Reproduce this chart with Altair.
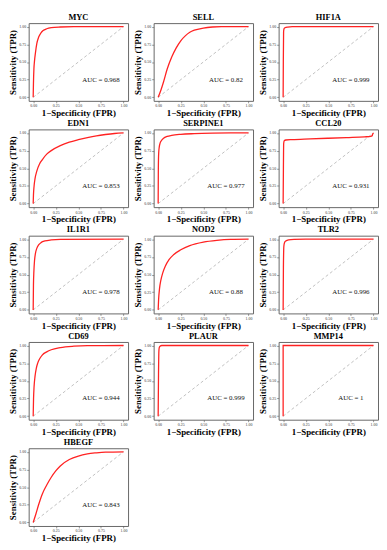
import altair as alt
import pandas as pd

genes = ["MYC", "SELL", "HIF1A", "EDN1", "SERPINE1", "CCL20", "IL1R1", "NOD2",
         "TLR2", "CD69", "PLAUR", "MMP14", "HBEGF"]
auc_labels = ["AUC = 0.968", "AUC = 0.82", "AUC = 0.999", "AUC = 0.853", "AUC = 0.977",
              "AUC = 0.931", "AUC = 0.978", "AUC = 0.88", "AUC = 0.996", "AUC = 0.944",
              "AUC = 0.999", "AUC = 1", "AUC = 0.843"]

fpr_MYC = [0, 0.003, 0.008, 0.015, 0.025, 0.04, 0.06, 0.08, 0.11, 0.15, 0.2, 0.3, 0.45, 1.0]
tpr_MYC = [0, 0.2, 0.4, 0.52, 0.63, 0.76, 0.85, 0.9, 0.945, 0.97, 0.985, 0.995, 1.0, 1.0]

fpr_SELL = [0, 0.03, 0.06, 0.1, 0.15, 0.2, 0.25, 0.3, 0.35, 0.4, 0.5, 0.6, 0.7, 0.8, 1.0]
tpr_SELL = [0, 0.1, 0.22, 0.4, 0.57, 0.7, 0.8, 0.87, 0.92, 0.95, 0.98, 0.995, 1.0, 1.0, 1.0]

fpr_HIF1A = [0, 0.002, 0.005, 0.01, 0.02, 0.05, 0.1, 1.0]
tpr_HIF1A = [0, 0.5, 0.93, 0.97, 0.985, 0.995, 1.0, 1.0]

fpr_EDN1 = [0, 0.003, 0.01, 0.02, 0.04, 0.07, 0.1, 0.15, 0.2, 0.3, 0.4, 0.5, 0.6, 0.7, 0.8, 0.9, 1.0]
tpr_EDN1 = [0, 0.12, 0.25, 0.35, 0.46, 0.56, 0.62, 0.7, 0.75, 0.82, 0.87, 0.905, 0.935, 0.96, 0.978, 0.992, 1.0]

fpr_SERPINE1 = [0, 0.002, 0.006, 0.012, 0.02, 0.035, 0.06, 0.1, 0.15, 0.25, 0.4, 0.6, 0.8, 1.0]
tpr_SERPINE1 = [0, 0.5, 0.72, 0.8, 0.85, 0.89, 0.925, 0.95, 0.965, 0.98, 0.99, 0.997, 1.0, 1.0]

fpr_CCL20 = [0, 0.003, 0.006, 0.012, 0.03, 0.1, 0.3, 0.5, 0.7, 0.9, 0.97, 0.985, 0.99, 1.0]
tpr_CCL20 = [0, 0.5, 0.85, 0.89, 0.9, 0.905, 0.915, 0.925, 0.935, 0.945, 0.95, 0.96, 0.98, 1.0]

fpr_IL1R1 = [0, 0.003, 0.008, 0.015, 0.025, 0.04, 0.06, 0.09, 0.13, 0.2, 0.3, 1.0]
tpr_IL1R1 = [0, 0.35, 0.55, 0.7, 0.8, 0.87, 0.92, 0.955, 0.975, 0.99, 0.998, 1.0]

fpr_NOD2 = [0, 0.005, 0.015, 0.03, 0.05, 0.08, 0.12, 0.17, 0.25, 0.35, 0.5, 0.65, 0.8, 1.0]
tpr_NOD2 = [0, 0.15, 0.3, 0.42, 0.52, 0.62, 0.71, 0.78, 0.85, 0.91, 0.96, 0.985, 0.997, 1.0]

fpr_TLR2 = [0, 0.003, 0.008, 0.015, 0.03, 0.06, 0.12, 0.25, 1.0]
tpr_TLR2 = [0, 0.6, 0.9, 0.95, 0.975, 0.99, 0.997, 1.0, 1.0]

fpr_CD69 = [0, 0.004, 0.01, 0.02, 0.035, 0.05, 0.075, 0.1, 0.15, 0.2, 0.3, 0.45, 0.6, 1.0]
tpr_CD69 = [0, 0.25, 0.42, 0.56, 0.68, 0.75, 0.82, 0.865, 0.91, 0.94, 0.97, 0.99, 0.998, 1.0]

fpr_PLAUR = [0, 0.004, 0.008, 0.012, 0.02, 0.04, 1.0]
tpr_PLAUR = [0, 0.6, 0.92, 0.97, 0.99, 1.0, 1.0]

fpr_MMP14 = [0, 0, 1.0]
tpr_MMP14 = [0, 1.0, 1.0]

fpr_HBEGF = [0, 0.03, 0.06, 0.1, 0.15, 0.2, 0.25, 0.3, 0.4, 0.5, 0.6, 0.7, 0.8, 1.0]
tpr_HBEGF = [0, 0.12, 0.25, 0.4, 0.53, 0.64, 0.73, 0.8, 0.89, 0.94, 0.97, 0.985, 0.995, 1.0]

curves = {
    "MYC": (fpr_MYC, tpr_MYC), "SELL": (fpr_SELL, tpr_SELL), "HIF1A": (fpr_HIF1A, tpr_HIF1A),
    "EDN1": (fpr_EDN1, tpr_EDN1), "SERPINE1": (fpr_SERPINE1, tpr_SERPINE1),
    "CCL20": (fpr_CCL20, tpr_CCL20), "IL1R1": (fpr_IL1R1, tpr_IL1R1), "NOD2": (fpr_NOD2, tpr_NOD2),
    "TLR2": (fpr_TLR2, tpr_TLR2), "CD69": (fpr_CD69, tpr_CD69), "PLAUR": (fpr_PLAUR, tpr_PLAUR),
    "MMP14": (fpr_MMP14, tpr_MMP14), "HBEGF": (fpr_HBEGF, tpr_HBEGF),
}
diag_x = [0, 1]
diag_y = [0, 1]
tick_values = [0, 0.25, 0.5, 0.75, 1.0]

SERIF = "Liberation Serif"
W, H = 101, 79


def panel(name, label):
    fpr, tpr = curves[name]
    xs = alt.X("fpr:Q", scale=alt.Scale(domain=[-0.05, 1.05], nice=False, zero=False),
               axis=alt.Axis(values=tick_values, format=".2f", title="1\u2212Specificity (FPR)"))
    ys = alt.Y("tpr:Q", scale=alt.Scale(domain=[-0.05, 1.05], nice=False, zero=False),
               axis=alt.Axis(values=tick_values, format=".2f", title="Sensitivity (TPR)"))
    diag = alt.Chart(pd.DataFrame({"fpr": diag_x, "tpr": diag_y})).mark_line(
        color="#b0b0b0", strokeDash=[3, 2.5], strokeWidth=0.8).encode(x=xs, y=ys)
    interp = "linear" if name == "MMP14" else "monotone"
    curve = alt.Chart(pd.DataFrame({"fpr": fpr, "tpr": tpr})).mark_line(
        color="#ff2222", strokeWidth=1.3, interpolate=interp).encode(x=xs, y=ys)
    txt = alt.Chart(pd.DataFrame({"fpr": [0.75], "tpr": [0.25], "label": [label]})).mark_text(
        font=SERIF, fontSize=7, color="#111111").encode(x=xs, y=ys, text="label:N")
    return alt.layer(diag, curve, txt).properties(
        width=W, height=H,
        title=alt.TitleParams(name, font=SERIF, fontSize=8.5, fontWeight="bold",
                              color="#000000", offset=2, anchor="middle"))


panels = [panel(g, a) for g, a in zip(genes, auc_labels)]

chart = alt.concat(*panels, columns=3, spacing={"row": 0, "column": 4}).properties(
    padding={"left": 0, "top": 0, "right": 0, "bottom": 0}
).configure_view(
    stroke="#666666", strokeWidth=1
).configure_axis(
    grid=False, domain=False, tickColor="#555555", tickSize=2, tickWidth=0.6,
    labelFont=SERIF, labelFontSize=4, labelColor="#333333", labelPadding=1,
    titleFont=SERIF, titleFontSize=9, titleFontWeight="bold", titleColor="#000000",
    titlePadding=1
)

chart.save("out.html", embed_options={"renderer": "svg", "actions": False})
